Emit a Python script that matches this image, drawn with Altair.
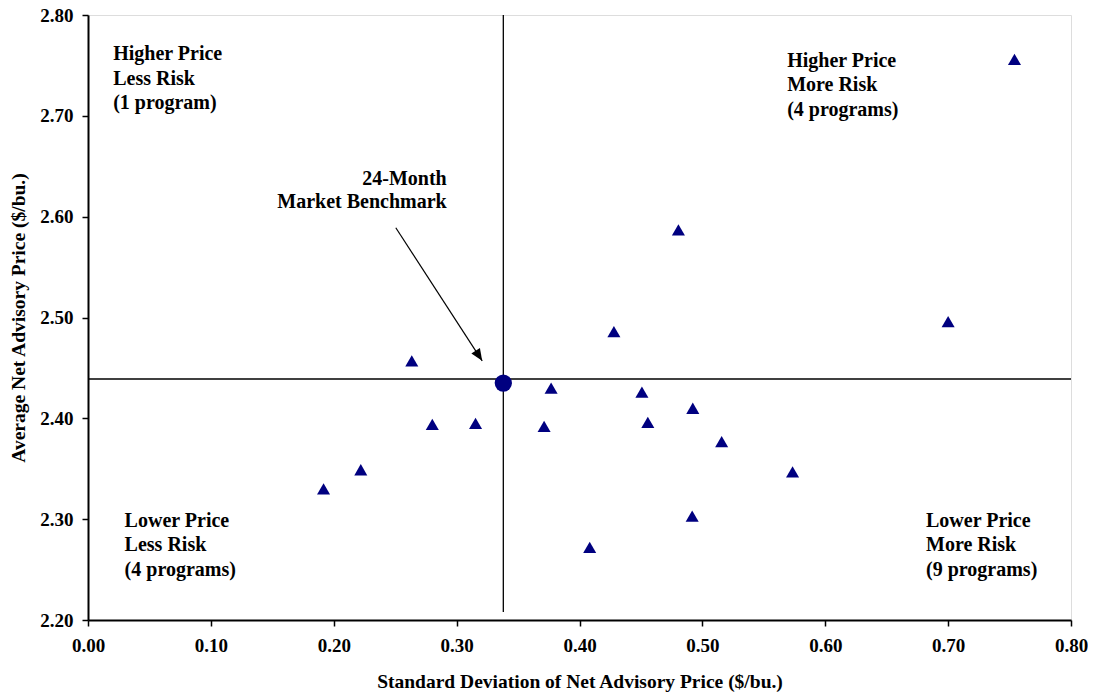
import altair as alt
import pandas as pd

# ---- data ----
std_dev = [0.754, 0.4805, 0.428, 0.700, 0.2635, 0.2802, 0.3154, 0.222, 0.1917,
           0.3769, 0.3712, 0.4508, 0.4922, 0.4556, 0.5157, 0.5734, 0.4917, 0.4083]
avg_price = [2.756, 2.587, 2.486, 2.496, 2.457, 2.394, 2.395, 2.349, 2.330,
             2.430, 2.392, 2.426, 2.410, 2.396, 2.377, 2.347, 2.303, 2.272]
benchmark_sd = [0.338]
benchmark_price = [2.435]
x_ticks = [0.0, 0.1, 0.2, 0.3, 0.4, 0.5, 0.6, 0.7, 0.8]
y_ticks = [2.2, 2.3, 2.4, 2.5, 2.6, 2.7, 2.8]

quadrant_texts = ["Higher Price\nLess Risk\n(1 program)",
                  "Higher Price\nMore Risk\n(4 programs)",
                  "Lower Price\nLess Risk\n(4 programs)",
                  "Lower Price\nMore Risk\n(9 programs)"]
quadrant_x = [0.0205, 0.569, 0.0298, 0.682]
quadrant_y = [2.7613, 2.7547, 2.2982, 2.2982]
bench_text = ["24-Month\nMarket Benchmark"]
bench_text_x = [0.2919]
bench_text_y = [2.6374]
arrow_from = [0.2505, 2.589]
arrow_to = [0.3208, 2.457]
cross_x = 0.338
cross_y = 2.439

FONT = "Liberation Serif"
NAVY = "#000080"
X_TITLE = "Standard Deviation of Net Advisory Price ($/bu.)"
Y_TITLE = "Average Net Advisory Price ($/bu.)"

xs = alt.Scale(domain=[0, 0.8], nice=False, zero=False)
ys = alt.Scale(domain=[2.2, 2.8], nice=False, zero=False)

common_axis = dict(
    format=".2f", grid=False, labelFont=FONT, labelFontSize=19, labelFontWeight="bold",
    labelColor="black", tickColor="black", tickSize=6, tickWidth=1.5, labelFlush=False,
    domainColor="black", domainWidth=2, titleFont=FONT, titleFontSize=19.5,
    titleFontWeight="bold", titleColor="black",
)
xaxis = alt.Axis(values=x_ticks, labelPadding=10, titlePadding=17, **common_axis)
yaxis = alt.Axis(values=y_ticks, labelPadding=9, titlePadding=11, **common_axis)


def X(field):
    return alt.X(field, type="quantitative", scale=xs, axis=xaxis, title=X_TITLE)


def Y(field):
    return alt.Y(field, type="quantitative", scale=ys, axis=yaxis, title=Y_TITLE)


pts = pd.DataFrame({"x": std_dev, "y": avg_price})
bench = pd.DataFrame({"x": benchmark_sd, "y": benchmark_price})

vline = alt.Chart(pd.DataFrame({"x": [cross_x], "y": [2.208], "y2": [2.8]})).mark_rule(
    color="black", strokeWidth=1.3
).encode(x=X("x"), y=Y("y"), y2="y2")
hline = alt.Chart(pd.DataFrame({"x": [0.0], "x2": [0.8], "y": [cross_y]})).mark_rule(
    color="black", strokeWidth=1.3
).encode(x=X("x"), x2="x2", y=Y("y"))

scatter = alt.Chart(pts).mark_point(
    shape="triangle-up", filled=True, size=170, color=NAVY, opacity=1
).encode(x=X("x"), y=Y("y"))

bench_pt = alt.Chart(bench).mark_point(
    shape="circle", filled=True, size=300, color=NAVY, opacity=1
).encode(x=X("x"), y=Y("y"))

arrow_line = alt.Chart(pd.DataFrame({"x": [arrow_from[0]], "y": [arrow_from[1]],
                                     "x2": [arrow_to[0]], "y2": [arrow_to[1]]})).mark_rule(
    color="black", strokeWidth=1.2
).encode(x=X("x"), y=Y("y"), x2="x2", y2="y2")

arrow_head = alt.Chart(pd.DataFrame({"x": [arrow_to[0]], "y": [arrow_to[1]]})).mark_point(
    shape="M0,0L0.85,2L-0.85,2Z", filled=True, size=144, color="black", opacity=1, angle=147
).encode(x=X("x"), y=Y("y"))

quad = alt.Chart(pd.DataFrame({"x": quadrant_x, "y": quadrant_y, "t": quadrant_texts})).mark_text(
    align="left", baseline="middle", font=FONT, fontSize=20, fontWeight="bold",
    color="black", lineBreak="\n", lineHeight=24.5
).encode(x=X("x"), y=Y("y"), text="t:N")

btext = alt.Chart(pd.DataFrame({"x": bench_text_x, "y": bench_text_y, "t": bench_text})).mark_text(
    align="right", baseline="middle", font=FONT, fontSize=20, fontWeight="bold",
    color="black", lineBreak="\n", lineHeight=23.5
).encode(x=X("x"), y=Y("y"), text="t:N")

chart = alt.layer(vline, hline, arrow_line, arrow_head, scatter, bench_pt, quad, btext).properties(
    width=983, height=605,
    autosize=alt.AutoSizeParams(type="none"),
    padding={"left": 80, "top": 7, "right": 17, "bottom": 78},
).configure_view(stroke="black", strokeWidth=2).configure(background="white")

chart.save("out.html", embed_options={"renderer": "svg", "actions": False})
